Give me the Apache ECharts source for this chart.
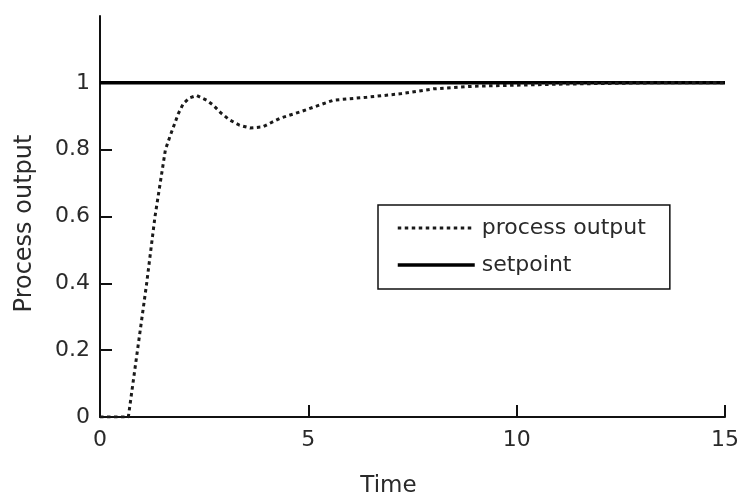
<!DOCTYPE html>
<html>
<head>
<meta charset="utf-8">
<script src="https://cdn.jsdelivr.net/npm/echarts@6/dist/echarts.min.js"></script>
<style>
html,body{margin:0;padding:0;background:#fff;}
#chart{width:742px;height:503px;}
</style>
</head>
<body>
<div id="chart"></div>
<script>
// Data
var timeValues   = [0, 0.68, 0.9, 1.12, 1.32, 1.57, 1.68, 1.88, 2.0, 2.15, 2.32, 2.56, 2.72, 2.9, 3.11, 3.35, 3.6, 3.9, 4.32, 4.8, 5.6, 6.4, 7.2, 8.0, 9.0, 10.0, 11.0, 12.0, 13.2, 15];
var processOutput = [0, 0, 0.2, 0.4, 0.6, 0.8, 0.84, 0.908, 0.938, 0.955, 0.962, 0.948, 0.933, 0.91, 0.889, 0.873, 0.865, 0.868, 0.894, 0.913, 0.948, 0.957, 0.967, 0.982, 0.99, 0.993, 0.996, 0.998, 1.0, 1.0];
var setpointTime  = [0, 15];
var setpointValue = [1, 1];
var xTicks = [0, 5, 10, 15];
var yTicks = [0, 0.2, 0.4, 0.6, 0.8, 1];
var seriesNames = ['process output', 'setpoint'];
var xAxisName = 'Time';
var yAxisName = 'Process output';

function pairs(xs, ys) { return xs.map(function (x, i) { return [x, ys[i]]; }); }

var FONT = 'DejaVu Sans';
var TXT = '#2a2a2a';

var chart = echarts.init(document.getElementById('chart'), null, {renderer: 'canvas'});
chart.setOption({
  backgroundColor: '#ffffff',
  animation: false,
  grid: {left: 100, right: 17, top: 16, bottom: 75, containLabel: false},
  legend: {
    data: [
      {name: seriesNames[0], lineStyle: {color: '#1a1a1a', width: 3, type: [3.5, 3.5]}},
      {name: seriesNames[1], lineStyle: {color: '#000', width: 3.5, type: 'solid'}}
    ],
    orient: 'vertical',
    left: 378,
    top: 205,
    backgroundColor: '#ffffff',
    borderColor: '#111',
    borderWidth: 1.5,
    padding: [12, 24, 13, 18],
    itemWidth: 77,
    itemHeight: 22,
    itemGap: 15,
    itemStyle: {opacity: 0},
    textStyle: {fontFamily: FONT, fontSize: 22, color: TXT, padding: [0, 0, 0, 2]}
  },
  xAxis: {
    type: 'value',
    min: 0, max: 15, interval: 5,
    name: xAxisName,
    nameLocation: 'middle',
    nameGap: 58,
    nameTextStyle: {fontFamily: FONT, fontSize: 23, color: TXT, padding: [0, 48, 0, 0]},
    axisLine: {show: true, lineStyle: {color: '#111', width: 2}},
    axisTick: {show: true, inside: true, length: 12, lineStyle: {color: '#111', width: 2}, customValues: xTicks},
    axisLabel: {fontFamily: FONT, fontSize: 22, color: TXT, margin: 12, customValues: xTicks},
    splitLine: {show: false}
  },
  yAxis: {
    type: 'value',
    min: 0, max: 1.2, interval: 0.2,
    name: yAxisName,
    nameLocation: 'middle',
    nameGap: 63,
    nameRotate: 90,
    nameTextStyle: {fontFamily: FONT, fontSize: 24, color: TXT, padding: [0, 14, 0, 0]},
    axisLine: {show: true, lineStyle: {color: '#111', width: 2}},
    axisTick: {show: true, inside: true, length: 12, lineStyle: {color: '#111', width: 2}, customValues: yTicks},
    axisLabel: {fontFamily: FONT, fontSize: 22, color: TXT, margin: 10, customValues: yTicks,
      formatter: function (v) { return String(Math.round(v * 10) / 10); }},
    splitLine: {show: false}
  },
  series: [
    {
      name: seriesNames[0],
      type: 'line',
      data: pairs(timeValues, processOutput),
      showSymbol: false,
      symbol: 'none',
      color: '#1a1a1a',
      lineStyle: {color: '#1a1a1a', width: 3, type: [3.5, 3.5]},
      z: 3
    },
    {
      name: seriesNames[1],
      type: 'line',
      data: pairs(setpointTime, setpointValue),
      showSymbol: false,
      symbol: 'none',
      color: '#000',
      lineStyle: {color: '#000', width: 3.5, type: 'solid'},
      z: 2
    }
  ]
});
</script>
</body>
</html>
